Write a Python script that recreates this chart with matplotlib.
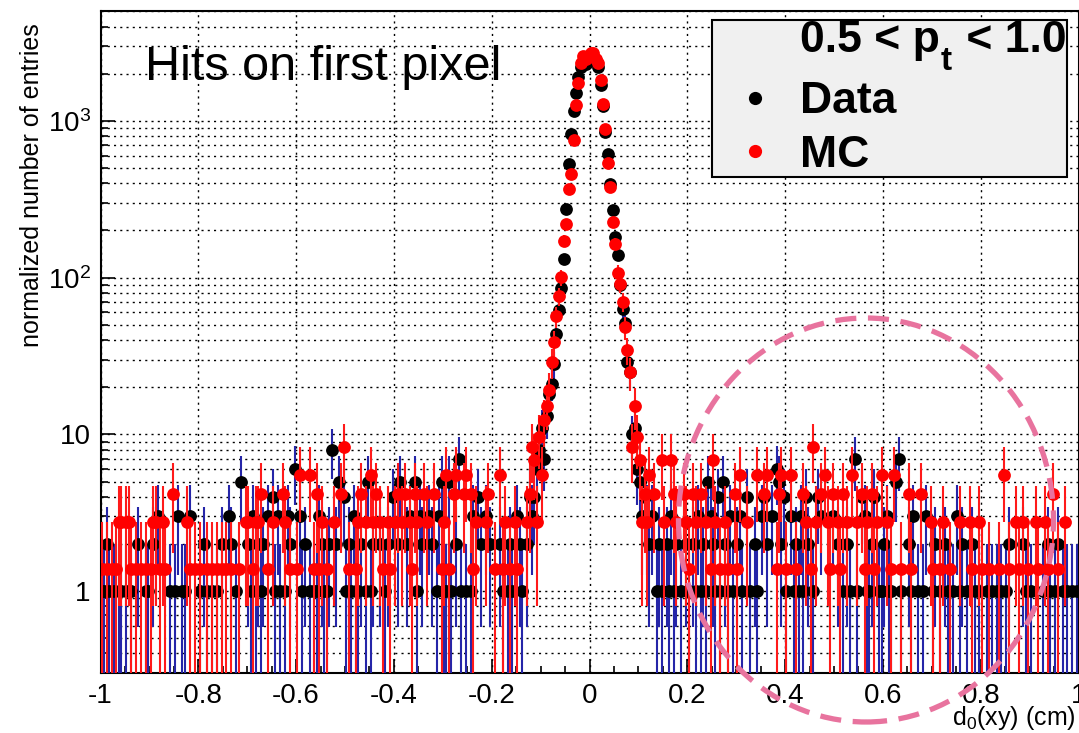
import numpy as np
import matplotlib
matplotlib.use("Agg")
import matplotlib.pyplot as plt
from matplotlib.patches import Ellipse, Rectangle
from matplotlib.lines import Line2D
from matplotlib.ticker import FuncFormatter, LogLocator, MultipleLocator, NullFormatter

plt.rcParams['font.family'] = ['Liberation Sans', 'DejaVu Sans']
plt.rcParams['mathtext.fontset'] = 'custom'
plt.rcParams['mathtext.rm'] = 'Liberation Sans'
plt.rcParams['mathtext.it'] = 'Liberation Sans:italic'
plt.rcParams['mathtext.bf'] = 'Liberation Sans:bold'
plt.rcParams['axes.unicode_minus'] = False

# ---------------- binning ----------------
x_min, x_max, n_bins = -1.0, 1.0, 400
mc_weight = 1.38          # MC normalisation weight per entry

# ---------------- Data: tail bins (bin index) per count ----------------
data_1 = [0, 1, 3, 5, 7, 8, 10, 12, 18, 19, 28, 30, 33, 34, 40, 43, 45, 47, 55, 61, 63, 65,
          71, 73, 75, 82, 85, 87, 88, 91, 92, 100, 102, 104, 105, 108, 110, 116, 129, 137,
          140, 141, 143, 147, 149, 151, 164, 166, 168, 172,
          227, 229, 232, 234, 237, 240, 243, 245, 247, 251, 253, 256, 258, 262, 265, 268,
          280, 283, 285, 287, 291, 303, 306, 309, 313, 314, 318, 319, 322, 323, 327, 331,
          334, 336, 340, 343, 346, 348, 351, 354, 357, 359, 362, 364, 366, 368, 370, 378,
          380, 385, 388, 390, 393, 395, 397, 399]
data_2 = [2, 15, 21, 42, 49, 53, 60, 64, 66, 77, 83, 90, 93, 96, 101, 106, 111, 114, 117,
          121, 125, 131, 135, 145, 155, 159, 163, 167, 171,
          224, 228, 231, 235, 239, 242, 246, 250, 255, 260, 267, 272, 278, 284, 289, 301,
          305, 315, 320, 330, 341, 345, 352, 356, 371, 377, 387, 391]
data_3 = [23, 31, 36, 52, 62, 68, 72, 76, 81, 89, 103, 126, 130, 134, 138, 152, 157, 170,
          225, 233, 244, 249, 257, 261, 270, 274, 282, 286, 294, 299, 312, 321, 332, 337, 350]
data_4 = [70, 99, 119, 154, 252, 264, 271, 279, 288, 293, 311, 316]
data_5 = [57, 97, 109, 122, 128, 139, 142, 248, 254, 277, 325]
data_6 = [79, 276]
data_7 = [146, 308, 326]
data_8 = [94]

# ---------------- MC: tail bins (bin index) per number of weighted entries ----------------
mc_1 = [0, 2, 4, 6, 12, 14, 16, 18, 20, 24, 26, 36, 38, 40, 43, 45, 47, 49, 51, 53, 56, 62,
        68, 77, 80, 87, 89, 92, 101, 104, 115, 118, 127, 139, 142, 152, 161, 164, 167, 170,
        240, 249, 253, 256, 260, 276, 280, 284, 290, 298, 302, 312, 316, 323, 327, 331, 340,
        343, 347, 356, 360, 363, 367, 371, 375, 379, 383, 387, 391]
mc_2 = [7, 8, 10, 11, 21, 22, 25, 35, 59, 60, 63, 64, 70, 75, 90, 95, 105, 108, 111, 114,
        117, 120, 123, 126, 129, 133, 140, 153, 157, 165, 169,
        230, 235, 239, 243, 247, 251, 255, 264, 288, 292, 297, 301, 305, 309, 313, 317, 321,
        339, 344, 351, 355, 359, 374, 377, 382, 386, 394]
mc_3 = [29, 65, 74, 88, 98, 106, 112, 121, 124, 128, 132, 136, 144, 148, 151, 158,
        226, 234, 238, 242, 245, 259, 271, 277, 287, 294, 299, 303, 311, 315, 330, 335, 389]
mc_4 = [81, 85, 110, 141, 145, 149, 163, 224, 261, 268, 272, 278, 282, 296, 307, 319, 324, 369]
mc_5 = [229, 233, 250]
mc_6 = [99, 291]

# ---------------- central peak (bins 174 .. 223) ----------------
peak_first_bin = 174
data_peak = [2, 4, 3, 4, 6, 8, 11, 7, 13, 18,
             21, 28, 44, 62, 86, 131, 274, 530, 820, 1150,
             1500, 1900, 2200, 2300, 2300, 2500, 2600, 2500, 2400, 2200,
             1700, 1250, 850, 612, 398, 270, 182, 140, 90, 63,
             51, 29, 25, 10, 11, 6, 5, 3, 4, 3]
mc_peak = [2, 3, 6, 5, 2, 7, 4, 9, 11, 14,
           21, 28, 41, 55, 73, 125, 160, 265, 333, 547,
           913, 1268, 1703, 1884, 1812, 1884, 1957, 1971, 1812, 1703,
           1315, 933, 647, 391, 275, 163, 119, 78, 66, 51,
           35, 25, 18, 6, 11, 7, 5, 2, 3, 2]

# ---------------- build histograms ----------------
def build(levels, peak):
    h = np.zeros(n_bins)
    for lvl, bins in levels.items():
        for b in bins:
            h[b] = max(h[b], lvl)
    h[peak_first_bin:peak_first_bin + len(peak)] = peak
    return h

data = build({1: data_1, 2: data_2, 3: data_3, 4: data_4, 5: data_5,
              6: data_6, 7: data_7, 8: data_8}, data_peak)
mc_n = build({1: mc_1, 2: mc_2, 3: mc_3, 4: mc_4, 5: mc_5, 6: mc_6}, mc_peak)

width = (x_max - x_min) / n_bins
centers = x_min + (np.arange(n_bins) + 0.5) * width

# ---------------- figure ----------------
W, H = 1079, 733
fig = plt.figure(figsize=(W / 100, H / 100), dpi=100)
ax_left, ax_right, ax_top, ax_bot = 100.5, 1078.5, 11.4, 673
ax = fig.add_axes([ax_left / W, 1 - ax_bot / H, (ax_right - ax_left) / W, (ax_bot - ax_top) / H])
ax.set_xlim(x_min, x_max)
ax.set_yscale('log')
ax.set_ylim(0.3, 5000)

floor = 1e-3
ms = 9.2
# data
m = data > 0
err = np.sqrt(data)
ax.vlines(centers[m], np.maximum(data[m] - err[m], floor), data[m] + err[m],
          colors='#2525a8', lw=1.5, zorder=3)
ax.plot(centers[m], data[m], 'o', color='black', ms=ms, mec='none', zorder=4)
# MC
mc = mc_n * mc_weight
mc_err = np.sqrt(mc_n) * mc_weight
m2 = mc_n > 0
ax.vlines(centers[m2], np.maximum(mc[m2] - mc_err[m2], floor), mc[m2] + mc_err[m2],
          colors='#ff1a1a', lw=1.5, zorder=5)
ax.plot(centers[m2], mc[m2], 'o', color='#ff0000', ms=ms, mec='none', zorder=6)

# grid / ticks
ax.xaxis.set_major_locator(MultipleLocator(0.2))
ax.xaxis.set_minor_locator(MultipleLocator(0.05))
ax.yaxis.set_major_locator(LogLocator(base=10, numticks=10))
ax.yaxis.set_minor_locator(LogLocator(base=10, subs=np.arange(2, 10), numticks=20))
ax.yaxis.set_minor_formatter(NullFormatter())

def yfmt(v, pos):
    e = int(round(np.log10(v)))
    if e == 0:
        return '1'
    if e == 1:
        return '10'
    return r'$10^{%d}$' % e

def xfmt(v, pos):
    if abs(v) < 1e-9:
        return '0'
    if abs(abs(v) - 1) < 1e-9:
        return '%d' % round(v)
    return ('%.1f' % v)

ax.yaxis.set_major_formatter(FuncFormatter(yfmt))
ax.xaxis.set_major_formatter(FuncFormatter(xfmt))

grid_kw = dict(color='black', lw=1.0, linestyle=(0, (1.5, 3.0)))
ax.xaxis.grid(True, which='major', **grid_kw)
ax.yaxis.grid(True, which='both', **grid_kw)
ax.set_axisbelow(True)

ax.tick_params(which='both', direction='in', top=False, right=False, width=1.2)
ax.tick_params(which='major', length=10, labelsize=20)
ax.tick_params(which='minor', length=5)
ax.tick_params(axis='x', pad=7)
ax.tick_params(axis='y', pad=7)
for s in ax.spines.values():
    s.set_linewidth(1.5)

# texts
fig.text(145 / W, 1 - 80 / H, 'Hits on first pixel', fontsize=35, va='baseline')
fig.text(32 / W, 1 - 185 / H, 'normalized number of entries', rotation=90,
         fontsize=18, ha='center', va='center')
fig.text(1076 / W, 1 - 725 / H, r'd$_\mathrm{0}$(xy) (cm)', fontsize=18,
         ha='right', va='baseline')

# legend box
fig.patches.append(Rectangle((712 / W, 1 - 177 / H), (1067 - 712) / W, (177 - 20) / H,
                             transform=fig.transFigure, facecolor='#f0f0f0',
                             edgecolor='black', lw=1.5, zorder=10))
renderer = fig.canvas.get_renderer()
t1 = fig.text(800 / W, 1 - 52 / H, '0.5 < p', fontsize=32, fontweight='bold',
              va='baseline', zorder=11)
x1 = t1.get_window_extent(renderer).x1
t2 = fig.text((x1 + 1) / W, 1 - 70 / H, 't', fontsize=24, fontweight='bold',
              va='baseline', zorder=11)
x2 = t2.get_window_extent(renderer).x1
fig.text((x2 + 2) / W, 1 - 52 / H, ' < 1.0', fontsize=32, fontweight='bold',
         va='baseline', zorder=11)
fig.text(800 / W, 1 - 113 / H, 'Data', fontsize=32, fontweight='bold', va='baseline', zorder=11)
fig.text(800 / W, 1 - 167 / H, 'MC', fontsize=32, fontweight='bold', va='baseline', zorder=11)
fig.add_artist(Line2D([755 / W], [1 - 98 / H], transform=fig.transFigure, marker='o',
                      color='black', ms=9.5, mec='none', zorder=11))
fig.add_artist(Line2D([755 / W], [1 - 151 / H], transform=fig.transFigure, marker='o',
                      color='#ff0000', ms=9.5, mec='none', zorder=11))

# dashed highlight ellipse
fig.patches.append(Ellipse((866 / W, 1 - 520 / H), 375 / W, 404 / H,
                           transform=fig.transFigure, fill=False, edgecolor='#e8739e',
                           lw=3.8, linestyle=(0, (4, 2.2)), zorder=12))

fig.savefig('out.png', dpi=100)
